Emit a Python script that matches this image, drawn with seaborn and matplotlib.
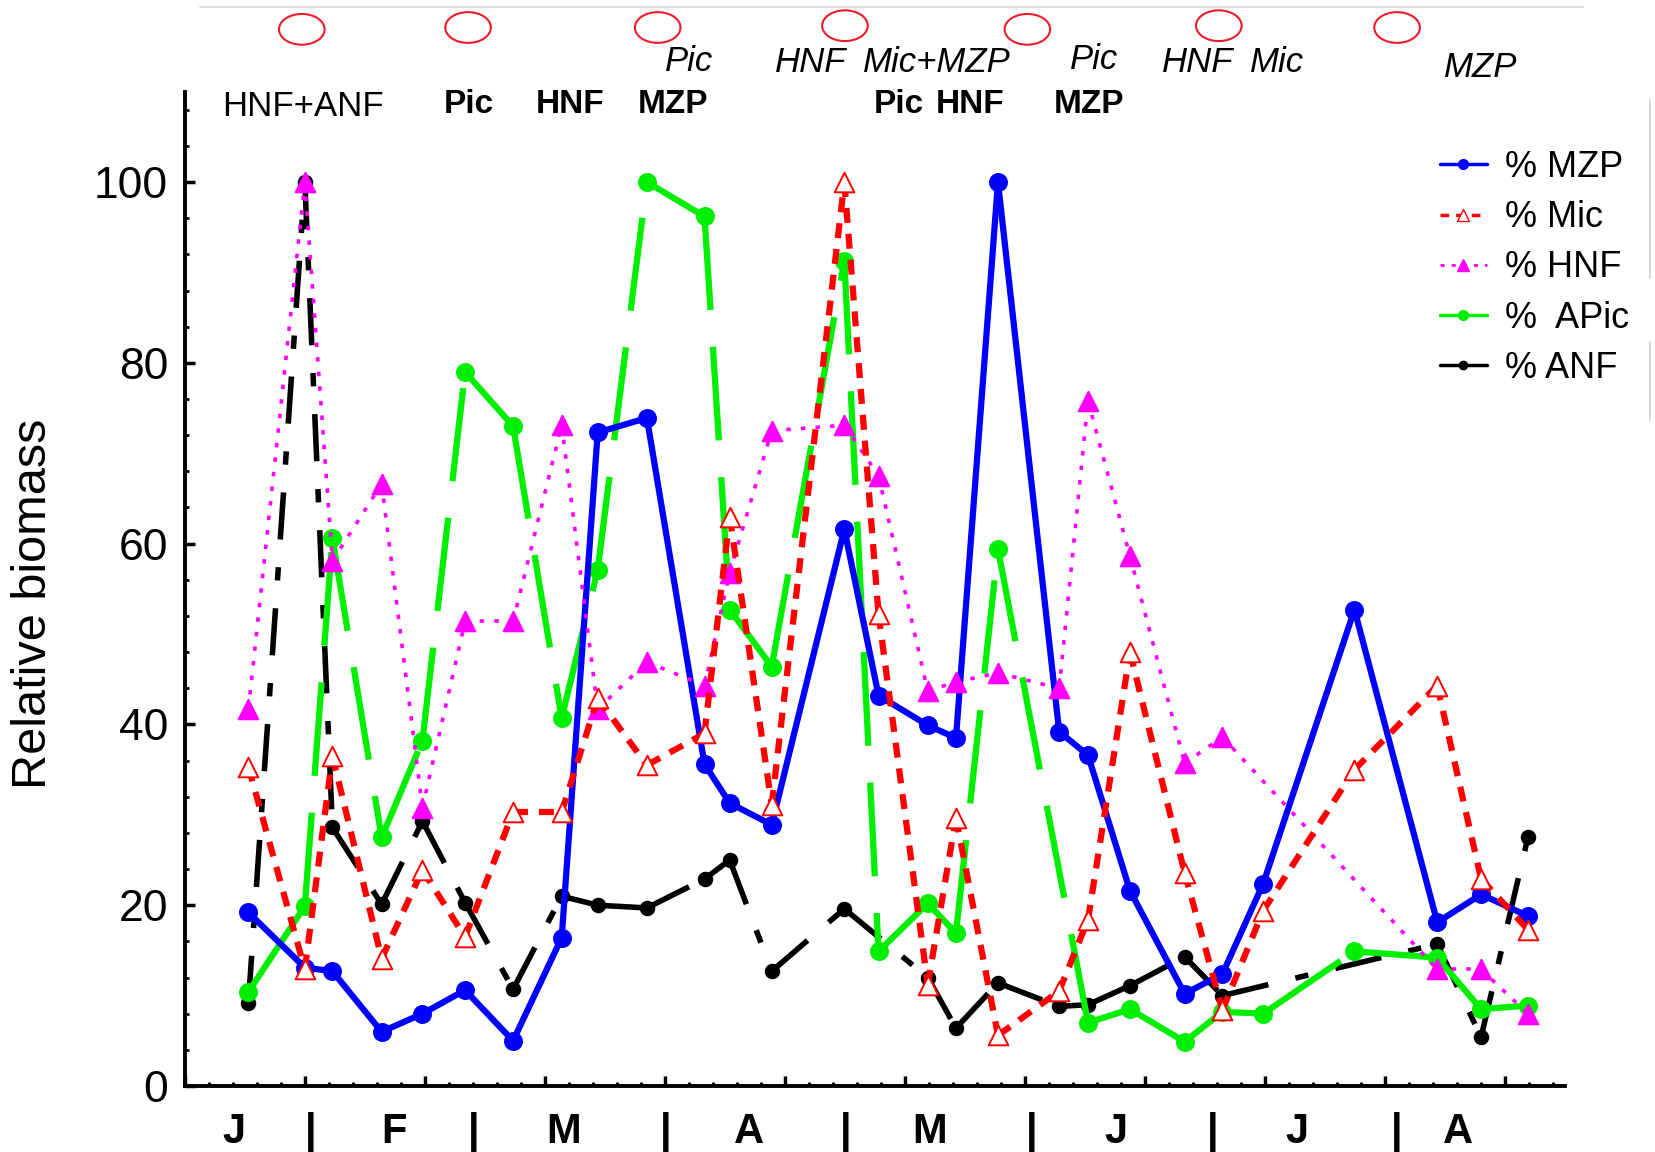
import numpy as np
import pandas as pd
import matplotlib
matplotlib.use("Agg")
import matplotlib.pyplot as plt
from matplotlib.lines import Line2D
from matplotlib.patches import Ellipse
from matplotlib.ticker import MultipleLocator, NullFormatter
import seaborn as sns

# ---- sampling dates (days from start of the x axis) ----
days = [10.6, 20.0, 24.6, 32.8, 39.6, 46.7, 54.7, 62.8, 68.8, 77.0,
        86.6, 90.8, 97.8, 109.9, 115.6, 123.8, 128.5, 135.5, 145.7, 150.5,
        157.5, 166.6, 172.9, 179.7, 194.9, 208.7, 216.0, 223.8]

nan = np.nan
# ---- relative biomass of each group ----
mzp = [19.2, 13.1, 12.7, 6.0, 8.0, 10.6, 5.0, 16.4, 72.3, 73.9,
       35.6, 31.3, 28.9, 61.6, 43.2, 39.9, 38.5, 100.0, 39.2, 36.6,
       21.6, 10.2, 12.4, 22.4, 52.7, 18.1, 21.2, 18.8]
mic = [35.3, 12.9, 36.5, 14.1, 23.9, 16.5, 30.3, 30.3, 42.9, 35.5,
       39.0, 63.0, 31.1, 100.0, 52.2, 11.2, 29.7, 5.6, 10.5, 18.4,
       48.0, 23.6, 8.4, 19.4, 35.0, 44.3, 22.9, 17.3]
hnf = [41.7, 100.0, 58.1, 66.6, 30.8, 51.4, 51.4, 73.1, 41.7, 46.9,
       44.3, 56.8, 72.5, 73.1, 67.5, 43.7, 44.7, 45.7, 44.0, 75.8,
       58.6, 35.7, 38.6, nan, nan, 12.9, 12.9, 8.0]
apic = [10.4, 19.9, 60.6, 27.5, 38.2, 79.0, 73.0, 40.7, 57.1, 100.0,
        96.2, 52.7, 46.4, 91.3, 14.9, 20.2, 16.9, 59.4, nan, 7.0,
        8.5, 4.9, 8.2, 8.0, 14.9, 14.2, 8.5, 8.9]
anf = [9.2, 100.0, 28.6, 20.1, 29.3, 20.3, 10.7, 21.0, 20.0, 19.7,
       22.9, 25.0, 12.7, 19.6, nan, 12.0, 6.4, 11.4, 8.8, 9.0,
       11.1, 14.3, 10.0, nan, nan, 15.7, 5.4, 27.5]

# ---- month labels along the time axis ----
month_labels = ["J", "|", "F", "|", "M", "|", "A", "|", "M", "|", "J", "|", "J", "|", "A"]
month_pos = [8.2, 21.0, 34.8, 48.1, 63.1, 80.1, 94.0, 110.2, 124.1, 141.2,
             155.2, 171.2, 185.3, 202.0, 212.1]

# ---- annotations above the plot ----
top_italic = ["Pic", "HNF", "Mic+MZP", "Pic", "HNF", "Mic", "MZP"]
top_italic_pos = [84.0, 104.3, 125.3, 151.5, 168.8, 182.0, 215.9]
top_italic_y = [113.3, 113.2, 113.2, 113.6, 113.2, 113.2, 112.7]
top_bold = ["Pic", "HNF", "MZP", "Pic", "HNF", "MZP"]
top_bold_pos = [47.4, 64.2, 81.4, 119.0, 130.8, 150.7]
top_plain = "HNF+ANF"
top_plain_pos = 19.7
circle_pos = [19.5, 47.2, 78.8, 110.0, 140.4, 172.3, 202.0]
circle_y = [116.9, 117.1, 117.1, 117.3, 116.9, 117.3, 117.1]

sns.set_theme(style="white")
plt.rcParams["font.family"] = ["Liberation Sans", "DejaVu Sans"]
plt.rcParams["text.color"] = "black"
plt.rcParams["axes.labelcolor"] = "black"
plt.rcParams["xtick.color"] = "black"
plt.rcParams["ytick.color"] = "black"

fig = plt.figure(figsize=(16.56, 11.52), dpi=100)
ax = fig.add_axes([184.8 / 1656, 66 / 1152, (1564.5 - 184.8) / 1656, (1086 - 91.7) / 1152])

series = [
    # name, values, color, linestyle, lw, marker, size, face, zorder
    ("% ANF", anf, "black", (0, (8.5, 5.0, 2.4, 5.0)), 4.0, "o", 95, "black", 3),
    ("%  APic", apic, "#00ee00", (0, (15, 5.9)), 4.5, "o", 150, "#00ee00", 4),
    ("% MZP", mzp, "#0000ff", "-", 4.5, "o", 150, "#0000ff", 5),
    ("% HNF", hnf, "#ff00ff", (0, (1.25, 2.8)), 2.6, "^", 200, "#ff00ff", 6),
    ("% Mic", mic, "#ff0000", (0, (2.4, 1.75)), 4.5, "^", 200, "white", 7),
]

for name, vals, color, ls, lw, mk, ms, face, z in series:
    d = pd.DataFrame({"day": days, "value": vals}).dropna().reset_index(drop=True)
    # each pair of neighbouring samples is its own stroke, so the dash
    # pattern restarts at every sample
    segs = []
    for i in range(len(d) - 1):
        segs.append(pd.DataFrame({"day": d["day"].iloc[i:i + 2].values,
                                  "value": d["value"].iloc[i:i + 2].values,
                                  "seg": i}))
    seg_df = pd.concat(segs, ignore_index=True)
    sns.lineplot(data=seg_df, x="day", y="value", units="seg", estimator=None,
                 color=color, linestyle=ls, linewidth=lw, legend=False, ax=ax,
                 zorder=z, solid_capstyle="butt", dash_capstyle="butt")
    sns.scatterplot(data=d, x="day", y="value", marker=mk, s=ms,
                    color=face, edgecolor=color, linewidth=1.4,
                    legend=False, ax=ax, zorder=z + 0.5)

ax.set_xlim(0, 229.9)
ax.set_ylim(0, 110)
ax.set_xlabel("")
ax.set_ylabel("")
ax.xaxis.set_major_locator(MultipleLocator(20))
ax.xaxis.set_minor_locator(MultipleLocator(4))
ax.xaxis.set_major_formatter(NullFormatter())
ax.yaxis.set_major_locator(MultipleLocator(20))
ax.yaxis.set_minor_locator(MultipleLocator(4))
ax.tick_params(axis="both", which="major", direction="in", length=7, width=2.5,
               color="black", labelcolor="black", labelsize=32, pad=12,
               bottom=True, left=True)
ax.tick_params(axis="both", which="minor", direction="in", length=3, width=2.0,
               color="black", bottom=True, left=True)
for side in ["top", "right"]:
    ax.spines[side].set_visible(False)
for side in ["left", "bottom"]:
    ax.spines[side].set_linewidth(2.8)
    ax.spines[side].set_color("black")
ax.grid(False)

fig.text(34 / 1656, 1 - 604 / 1152, "Relative biomass", rotation=90,
         fontsize=35, ha="center", va="center", color="black")

for lab, xp in zip(month_labels, month_pos):
    ax.text(xp, -6.3, lab, fontsize=30, fontweight="bold", ha="center",
            va="baseline", clip_on=False)

for lab, xp, yp in zip(top_italic, top_italic_pos, top_italic_y):
    ax.text(xp, yp, lab, fontsize=25, fontstyle="italic", ha="center",
            va="center", clip_on=False)
for lab, xp in zip(top_bold, top_bold_pos):
    ax.text(xp, 108.6, lab, fontsize=24, fontweight="bold", ha="center",
            va="center", clip_on=False)
ax.text(top_plain_pos, 108.4, top_plain, fontsize=25, ha="center",
        va="center", clip_on=False)
for xp, yp in zip(circle_pos, circle_y):
    ax.add_patch(Ellipse((xp, yp), 7.6, 3.4, fill=False, edgecolor="#ee1c2a",
                         lw=1.5, clip_on=False))

# faint frame lines at the top and right
fig.add_artist(Line2D([200 / 1656, 1583 / 1656], [1 - 6.7 / 1152] * 2,
                      color="#d6d6d6", lw=1.2))
fig.add_artist(Line2D([1650 / 1656] * 2, [1 - 100 / 1152, 1 - 278 / 1152],
                      color="#cfcfcf", lw=1.2))
fig.add_artist(Line2D([1650 / 1656] * 2, [1 - 342 / 1152, 1 - 420 / 1152],
                      color="#cfcfcf", lw=1.2))

handles = [
    Line2D([], [], color="#0000ff", lw=2.5, marker="o", markersize=7),
    Line2D([], [], color="#ff0000", lw=2.5, ls=(0, (2.5, 2)), marker="^",
           markersize=8, markerfacecolor="white", markeredgecolor="#ff0000"),
    Line2D([], [], color="#ff00ff", lw=2.0, ls=(0, (1.5, 2.5)), marker="^",
           markersize=9),
    Line2D([], [], color="#00ee00", lw=2.5, marker="o", markersize=7),
    Line2D([], [], color="black", lw=2.5, marker="o", markersize=6),
]
labels = ["% MZP", "% Mic", "% HNF", "%  APic", "% ANF"]
fig.legend(handles, labels, loc="upper left",
           bbox_to_anchor=(1440 / 1656, 1 - 150 / 1152), frameon=False,
           fontsize=26, handlelength=1.3, handletextpad=0.5,
           labelspacing=0.42, borderpad=0, borderaxespad=0)

fig.savefig("out.png", dpi=100)
